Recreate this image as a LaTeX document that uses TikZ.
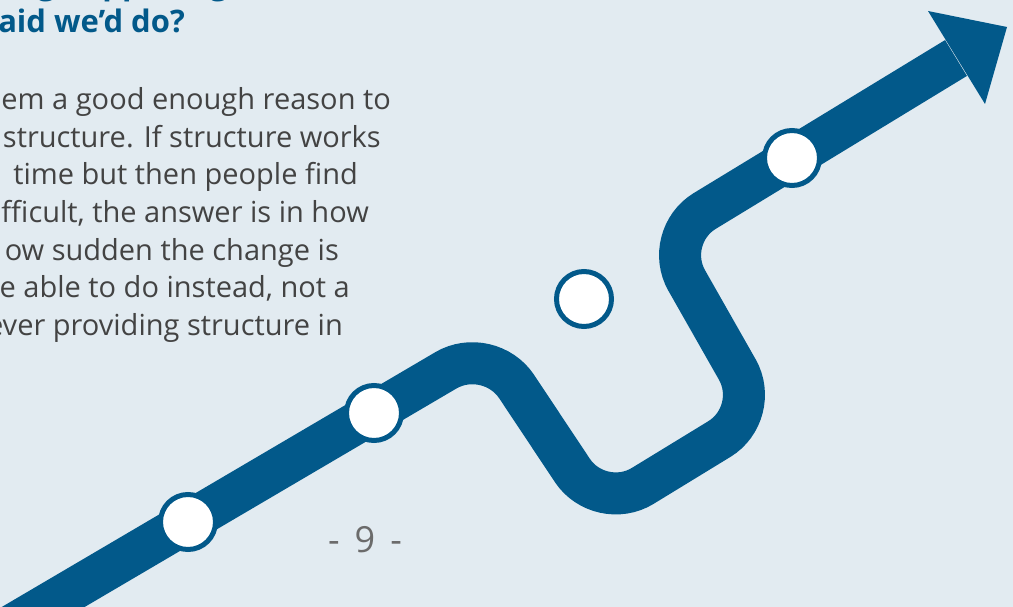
\documentclass[tikz,border=0pt]{standalone}
\usepackage{fontspec}
\setmainfont{Open Sans}
\definecolor{bg}{HTML}{E2EBF1}
\definecolor{navy}{HTML}{02598A}
\definecolor{bodygrey}{HTML}{434343}
\definecolor{pggrey}{HTML}{6B6B6B}
\begin{document}
\begin{tikzpicture}[x=1pt,y=-1pt,
  route/.style={draw=navy,line width=42pt,rounded corners=50pt},
  stop/.style={circle,fill=white,draw=navy,line width=5pt,minimum size=55pt,inner sep=0pt},
  titletext/.style={text=navy,font=\fontsize{31}{37}\selectfont\bfseries,inner sep=0pt},
  bodytext/.style={anchor=base east,text=bodygrey,font=\fontsize{29}{35}\selectfont,inner sep=0pt}]
\useasboundingbox (0,0) rectangle (1013,607);
\fill[bg] (0,0) rectangle (1013,607);

% title
\node[titletext,anchor=base west] (t1) at (-26,-5) {thing happening as we};
\node[titletext,anchor=base east] (t2) at (185,33) {aid we’d do?};

% body
\node[bodytext] (b1) at (391,110) {em a good enough reason to};
\node[bodytext] (b2) at (381,147.5) {structure. If structure works};
\node[bodytext] (b3) at (358,185) {time but then people find};
\node[bodytext] (b4) at (369,222.5) {fficult, the answer is in how};
\node[bodytext] (b5) at (339,260) {ow sudden the change is};
\node[bodytext] (b6) at (350,297.5) {e able to do instead, not a};
\node[bodytext] (b7) at (343,335) {ever providing structure in};

% page number
\node[anchor=base,text=pggrey,font=\fontsize{36}{40}\selectfont,inner sep=0pt] (pg) at (365,552) {\spaceskip=15pt - 9 -};

% route
\coordinate (p0) at (-30,650);
\coordinate (c1) at (489,345);
\coordinate (c2) at (600,512);
\coordinate (c3) at (762,413);
\coordinate (c4) at (662,237);
\coordinate (p5) at (956,58);
\draw[route] (p0) -- (c1) -- (c2) -- (c3) -- (c4) -- (p5);
\coordinate (h1) at (928,11);
\coordinate (h2) at (1007,27);
\coordinate (h3) at (985,104);
\fill[navy] (h1) -- (h2) -- (h3) -- cycle;

% stops
\node[stop] (s1) at (188,522) {};
\node[stop] (s2) at (374,413) {};
\node[stop] (s3) at (584,299) {};
\node[stop] (s4) at (792,158) {};
\end{tikzpicture}
\end{document}
